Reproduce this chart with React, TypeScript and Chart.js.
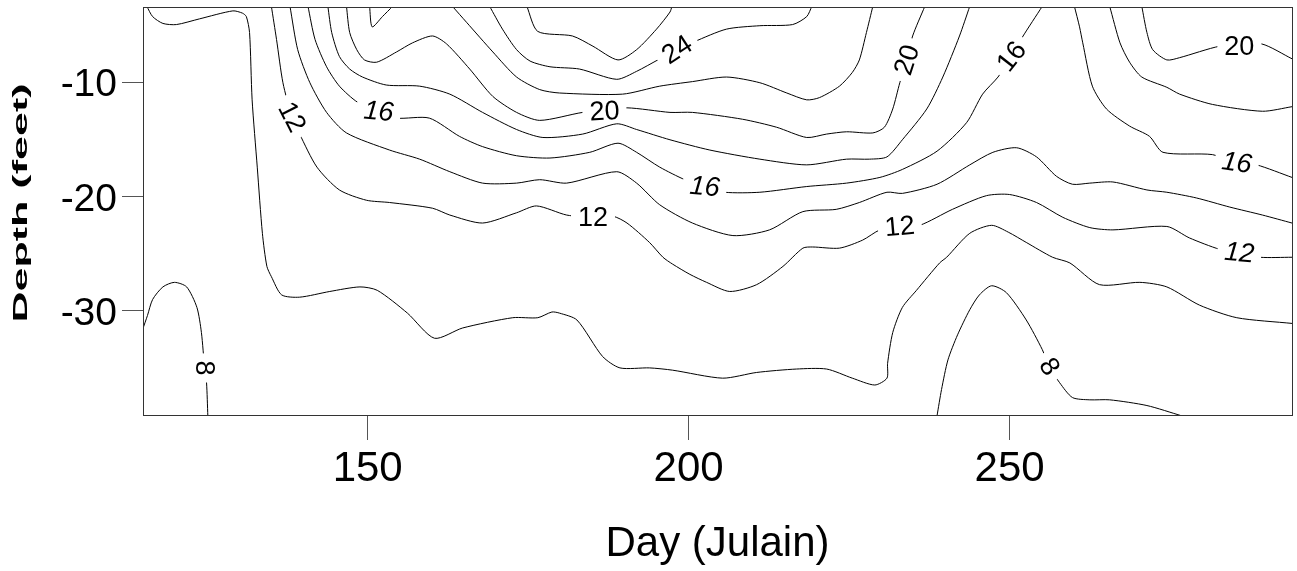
import React, { useEffect, useRef } from 'react';
import { Chart, registerables } from 'chart.js';

Chart.register(...registerables);

const WIDTH = 1297;
const HEIGHT = 571;

// Axis ranges and ticks
const dayMin = 115;
const dayMax = 294;
const depthMin = -39.13;
const depthMax = -3.36;
const xTicks = [150, 200, 250];
const xTickLabels = ['150', '200', '250'];
const yTicks = [-30, -20, -10];
const yTickLabels = ['-30', '-20', '-10'];
const xTitle = 'Day (Julain)';
const yTitle = 'Depth (feet)';

// Contour lines: [day, depth]
const contour8West: [number, number][] = [[114.9,-31.7],[115.7,-30.4],[116.5,-29.0],[118.1,-27.9],[119.9,-27.5],[121.8,-27.9],[123.4,-29.7],[124.1,-31.9],[124.6,-35.0],[124.9,-36.3],[125.1,-39.2]];
const contour8East: [number, number][] = [[238.7,-39.2],[239.4,-36.9],[240.4,-34.3],[241.9,-32.1],[243.8,-29.9],[245.3,-28.6],[247.2,-27.8],[249.5,-28.4],[252.6,-30.8],[255.1,-33.4],[256.2,-34.9],[257.8,-36.3],[259.8,-37.6],[262.5,-37.8],[265.6,-37.8],[271.4,-38.3],[276.8,-39.2]];
const contour10: [number, number][] = [[115.6,-3.3],[116.5,-4.2],[118.1,-4.8],[120.2,-4.9],[123.8,-4.4],[129.0,-3.7],[130.5,-3.9],[131.1,-4.2],[131.6,-5.6],[132.0,-11.5],[132.8,-17.4],[133.6,-23.2],[134.3,-26.1],[135.0,-27.0],[136.6,-28.6],[139.4,-28.8],[144.1,-28.3],[148.8,-27.9],[151.5,-28.2],[156.2,-30.2],[160.4,-32.4],[164.8,-31.5],[172.6,-30.6],[176.5,-30.6],[178.7,-30.1],[179.9,-30.2],[182.6,-30.8],[186.6,-34.0],[189.3,-35.0],[193.9,-35.0],[197.5,-35.2],[205.3,-35.9],[210.6,-35.4],[216.8,-35.1],[221.5,-35.1],[225.5,-35.9],[229.0,-36.5],[230.9,-35.9],[231.0,-34.6],[231.8,-31.9],[233.3,-29.7],[235.5,-28.2],[239.1,-25.8],[240.2,-25.3],[243.8,-23.2],[247.2,-22.5],[249.8,-23.1],[252.6,-24.0],[256.7,-25.3],[259.4,-25.8],[264.0,-27.7],[270.3,-27.5],[274.5,-27.9],[279.6,-29.5],[285.4,-30.6],[294.0,-31.1]];
const contour12: [number, number][] = [[135.0,-3.3],[135.8,-6.2],[136.8,-10.0],[138.2,-13.0],[139.4,-14.5],[142.1,-17.4],[145.6,-19.4],[149.8,-20.3],[153.4,-20.5],[160.1,-21.0],[162.8,-21.6],[167.9,-22.3],[173.2,-21.4],[176.3,-20.8],[181.0,-21.6],[185.1,-21.8],[188.2,-21.7],[190.4,-22.3],[193.9,-24.0],[196.0,-25.3],[197.5,-25.9],[200.2,-26.8],[202.8,-27.5],[206.4,-28.3],[210.6,-27.7],[214.7,-26.1],[217.8,-24.5],[219.3,-24.4],[223.5,-24.5],[227.1,-23.8],[229.8,-22.9],[232.9,-22.6],[236.0,-22.5],[241.1,-21.1],[246.4,-19.9],[250.0,-19.8],[254.2,-20.5],[258.3,-21.8],[262.5,-22.7],[266.1,-22.9],[274.5,-22.6],[278.0,-23.6],[282.7,-24.6],[285.8,-24.9],[289.0,-25.3],[294.0,-25.3]];
const contour14: [number, number][] = [[137.9,-3.3],[139.1,-7.1],[141.0,-10.0],[143.6,-12.6],[146.7,-14.4],[153.4,-15.9],[158.1,-16.7],[162.8,-17.8],[167.9,-18.8],[173.2,-18.8],[176.8,-18.5],[181.0,-18.8],[188.8,-17.8],[191.9,-18.8],[195.5,-20.7],[200.6,-22.3],[206.9,-23.4],[212.6,-22.9],[217.8,-21.3],[223.0,-21.1],[226.6,-20.5],[230.9,-19.6],[233.3,-19.7],[238.7,-18.9],[243.8,-17.2],[247.4,-16.1],[251.1,-15.7],[254.2,-16.5],[257.3,-18.2],[259.8,-18.9],[262.5,-18.8],[266.1,-18.7],[271.4,-19.4],[274.5,-19.6],[279.1,-20.1],[284.3,-20.9],[289.4,-21.6],[294.0,-22.3]];
const contour16West: [number, number][] = [[140.7,-3.3],[141.8,-6.2],[143.6,-8.6],[145.6,-10.3],[148.4,-11.7],[151.7,-12.5],[154.5,-13.1],[159.6,-13.1],[164.3,-14.7],[167.9,-15.6],[173.2,-16.4],[178.4,-16.6],[184.6,-16.1],[189.0,-15.3],[191.9,-16.1],[195.5,-17.4],[199.4,-18.5],[202.5,-19.1],[205.6,-19.6],[211.1,-19.6],[218.4,-19.1],[224.6,-18.8],[229.8,-18.3],[233.3,-17.6],[238.7,-16.0],[243.3,-13.5],[245.8,-11.0],[248.2,-9.5],[250.3,-7.7],[252.0,-6.0],[255.1,-3.3]];
const contour16East: [number, number][] = [[260.1,-3.3],[260.9,-5.1],[261.4,-6.5],[262.9,-10.3],[265.1,-12.3],[268.7,-13.8],[271.8,-14.7],[273.9,-16.1],[281.6,-16.3],[285.4,-17.0],[288.5,-17.2],[294.0,-18.3]];
const contour18West: [number, number][] = [[143.8,-3.3],[144.4,-5.6],[145.6,-7.7],[147.2,-8.8],[149.2,-9.5],[152.9,-10.2],[158.1,-10.3],[162.8,-11.0],[167.9,-12.6],[173.2,-14.1],[177.3,-14.8],[183.5,-14.5],[188.8,-13.6],[191.9,-14.1],[197.1,-15.0],[203.3,-15.9],[211.1,-16.7],[218.4,-17.2],[224.6,-16.7],[228.2,-16.7],[230.9,-16.5],[233.3,-15.0],[237.1,-12.3],[239.6,-9.5],[242.2,-5.9],[243.8,-3.3]];
const contour18East: [number, number][] = [[265.6,-3.3],[267.2,-6.5],[268.7,-8.2],[270.6,-9.5],[274.5,-10.4],[276.5,-11.0],[281.6,-11.9],[289.4,-12.5],[294.0,-12.1]];
const contour20West: [number, number][] = [[146.7,-3.3],[147.2,-5.6],[148.3,-7.1],[149.5,-8.0],[151.4,-8.2],[154.5,-7.3],[157.0,-6.5],[160.1,-5.9],[162.3,-6.6],[165.9,-8.8],[169.5,-11.2],[173.2,-12.6],[176.8,-13.3],[183.5,-12.6],[186.9,-12.5],[190.4,-12.2],[197.1,-12.6],[200.6,-12.6],[208.4,-13.2],[213.7,-13.9],[218.4,-14.8],[221.5,-14.5],[224.6,-14.3],[228.7,-14.4],[230.5,-13.9],[231.8,-12.3],[232.9,-10.0],[234.0,-8.0],[234.9,-5.9],[236.8,-3.3]];
const contour20East: [number, number][] = [[270.6,-3.3],[271.4,-5.6],[272.3,-7.1],[274.5,-8.0],[276.5,-7.8],[282.7,-6.8],[285.8,-6.8],[289.3,-6.6],[294.0,-7.9]];
const contour22West: [number, number][] = [[150.3,-3.3],[150.7,-5.1],[152.3,-4.2],[153.9,-3.3]];
const contour22East: [number, number][] = [[163.2,-3.3],[165.4,-4.7],[169.5,-7.3],[173.2,-9.5],[176.8,-10.6],[179.9,-10.9],[189.7,-11.0],[195.5,-10.3],[200.6,-9.9],[205.9,-9.5],[211.1,-10.0],[215.3,-10.9],[218.4,-11.5],[220.4,-11.3],[223.5,-10.3],[225.5,-9.1],[226.6,-8.0],[227.7,-5.6],[228.7,-3.3]];
const contour24: [number, number][] = [[169.0,-3.3],[171.0,-5.3],[173.2,-7.1],[175.3,-8.1],[178.4,-8.6],[183.0,-8.8],[188.8,-9.7],[191.9,-9.0],[195.2,-8.0],[198.2,-7.1],[200.9,-6.4],[205.9,-5.3],[211.1,-5.0],[216.2,-4.9],[218.4,-4.2],[219.2,-3.3]];
const contour26: [number, number][] = [[174.8,-3.3],[176.5,-5.5],[181.9,-5.9],[185.1,-6.8],[189.0,-8.0],[191.9,-7.1],[195.0,-5.3],[197.1,-3.8],[197.4,-3.3]];

const contours = [
  contour8West, contour8East, contour10, contour12, contour14,
  contour16West, contour16East, contour18West, contour18East,
  contour20West, contour20East, contour22West, contour22East, contour24, contour26,
];

// Contour labels
const labelText = ['12', '16', '20', '12', '24', '16', '20', '12', '16', '20', '16', '12', '8', '8'];
const labelDay = [138.2, 151.7, 186.9, 185.1, 198.2, 202.5, 234.0, 232.9, 250.3, 285.8, 285.4, 285.8, 124.6, 256.2];
const labelDepth = [-13.0, -12.5, -12.5, -21.8, -7.1, -19.1, -8.0, -22.6, -7.7, -6.8, -17.0, -24.9, -35.0, -34.9];
const labelAngle = [63, 5, -3, 0, -33, 5, -72, -5, -52, 0, 8, 5, 90, 58];
const labelItalic = [false, true, false, false, false, true, false, false, false, false, true, true, false, false];

const FONT = '"Liberation Sans", Arial, sans-serif';

const overlayPlugin = {
  id: 'contourOverlay',
  afterDatasetsDraw(chart: any) {
    const { ctx, scales } = chart;
    for (let i = 0; i < labelText.length; i++) {
      const px = scales.x.getPixelForValue(labelDay[i]);
      const py = scales.y.getPixelForValue(labelDepth[i]);
      ctx.save();
      ctx.translate(px, py);
      ctx.rotate((labelAngle[i] * Math.PI) / 180);
      ctx.font = `${labelItalic[i] ? 'italic ' : ''}27px ${FONT}`;
      const w = ctx.measureText(labelText[i]).width;
      ctx.fillStyle = '#ffffff';
      ctx.fillRect(-w / 2 - 7, -11, w + 14, 22);
      ctx.fillStyle = '#000000';
      ctx.textAlign = 'center';
      ctx.textBaseline = 'middle';
      ctx.fillText(labelText[i], 0, 1);
      ctx.restore();
    }
  },
  afterDraw(chart: any) {
    const { ctx, chartArea } = chart;
    ctx.save();
    ctx.strokeStyle = '#333333';
    ctx.lineWidth = 1;
    ctx.strokeRect(
      chartArea.left + 0.5,
      chartArea.top + 0.5,
      chartArea.right - chartArea.left,
      chartArea.bottom - chartArea.top
    );
    // x title
    ctx.fillStyle = '#000000';
    ctx.font = `42px ${FONT}`;
    ctx.textAlign = 'center';
    ctx.textBaseline = 'alphabetic';
    ctx.fillText(xTitle, (chartArea.left + chartArea.right) / 2, 556);
    // y title
    ctx.translate(27, 203);
    ctx.rotate(-Math.PI / 2);
    ctx.scale(2.05, 1);
    ctx.font = `bold 21px ${FONT}`;
    ctx.textAlign = 'center';
    ctx.textBaseline = 'alphabetic';
    ctx.fillText(yTitle, 0, 0);
    ctx.restore();
  },
};

export default function App() {
  const ref = useRef<HTMLCanvasElement | null>(null);

  useEffect(() => {
    const canvas = ref.current;
    if (!canvas) return;
    const chart = new Chart(canvas, {
      type: 'scatter',
      data: {
        datasets: contours.map((c) => ({
          data: c.map(([x, y]) => ({ x, y })),
          showLine: true,
          borderColor: '#000000',
          borderWidth: 1,
          pointRadius: 0,
          pointHoverRadius: 0,
          tension: 0.25,
          fill: false,
        })),
      },
      options: {
        animation: false,
        responsive: false,
        events: [],
        layout: { padding: { left: 0, top: 7, right: 5, bottom: 0 } },
        plugins: {
          legend: { display: false },
          tooltip: { enabled: false },
        },
        scales: {
          x: {
            type: 'linear',
            min: dayMin,
            max: dayMax,
            afterFit: (scale: any) => {
              scale.height = HEIGHT - 415;
              scale.paddingLeft = 0;
              scale.paddingRight = 0;
            },
            afterBuildTicks: (scale: any) => {
              scale.ticks = xTicks.map((v) => ({ value: v }));
            },
            border: { display: false },
            grid: {
              drawOnChartArea: false,
              drawTicks: true,
              tickLength: 25,
              tickColor: '#555555',
              tickWidth: 1,
            },
            ticks: {
              autoSkip: false,
              maxRotation: 0,
              padding: 4,
              color: '#000000',
              font: { family: FONT, size: 42 },
              callback: (v: any) => {
                const i = xTicks.indexOf(Number(v));
                return i >= 0 ? xTickLabels[i] : '';
              },
            },
          },
          y: {
            type: 'linear',
            min: depthMin,
            max: depthMax,
            afterFit: (scale: any) => {
              scale.width = 143;
              scale.paddingTop = 0;
              scale.paddingBottom = 0;
            },
            afterBuildTicks: (scale: any) => {
              scale.ticks = yTicks.map((v) => ({ value: v }));
            },
            border: { display: false },
            grid: {
              drawOnChartArea: false,
              drawTicks: true,
              tickLength: 21,
              tickColor: '#555555',
              tickWidth: 1,
            },
            ticks: {
              autoSkip: false,
              padding: 5,
              labelOffset: 3,
              color: '#000000',
              font: { family: FONT, size: 39 },
              callback: (v: any) => {
                const i = yTicks.indexOf(Number(v));
                return i >= 0 ? yTickLabels[i] : '';
              },
            },
          },
        },
      },
      plugins: [overlayPlugin],
    } as any);
    return () => chart.destroy();
  }, []);

  return (
    <div style={{ position: 'absolute', left: 0, top: 0, width: WIDTH, height: HEIGHT, background: '#ffffff' }}>
      <canvas ref={ref} width={WIDTH} height={HEIGHT} style={{ display: 'block', width: WIDTH, height: HEIGHT }} />
    </div>
  );
}
